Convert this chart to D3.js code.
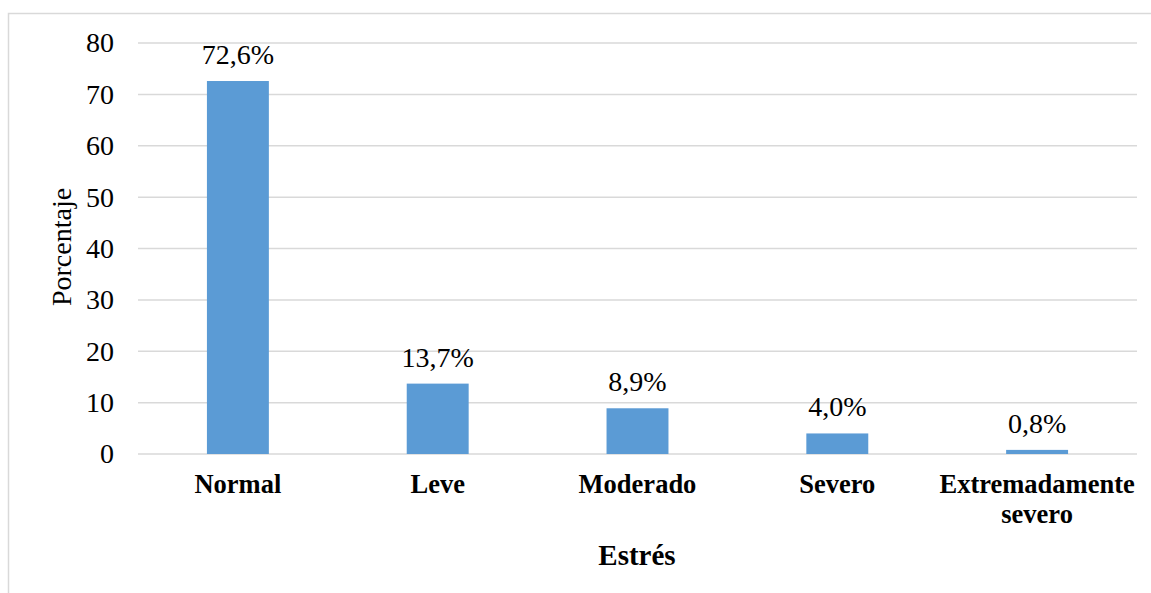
<!DOCTYPE html>
<html>
<head>
<meta charset="utf-8">
<script src="https://cdn.jsdelivr.net/npm/d3@7"></script>
<style>
  body { margin: 0; background: #fff; }
  svg { font-family: "Liberation Serif", "Times New Roman", serif; }
</style>
</head>
<body>
<svg id="chart" width="1151" height="593"></svg>
<script>
// data
const categories = ["Normal", "Leve", "Moderado", "Severo", "Extremadamente severo"];
const values = [72.6, 13.7, 8.9, 4.0, 0.8];
const valueLabels = ["72,6%", "13,7%", "8,9%", "4,0%", "0,8%"];
const yTicks = [0, 10, 20, 30, 40, 50, 60, 70, 80];

const svg = d3.select("#chart");

// outer frame (only top and left visible in the crop)
svg.append("rect")
    .attr("x", 8.5).attr("y", 13.5)
    .attr("width", 1160).attr("height", 600)
    .attr("fill", "none")
    .attr("stroke", "#d9d9d9")
    .attr("stroke-width", 1.5);

const x = d3.scaleBand()
    .domain(categories)
    .range([138, 1137])
    .paddingInner(0.69)
    .paddingOuter(0.345);

const y = d3.scaleLinear()
    .domain([0, 80])
    .range([454, 43]);

// gridlines
svg.append("g")
    .selectAll("line")
    .data(yTicks)
    .join("line")
        .attr("x1", 138)
        .attr("x2", 1137)
        .attr("y1", d => y(d))
        .attr("y2", d => y(d))
        .attr("stroke", "#d9d9d9")
        .attr("stroke-width", 1.5);

// y tick labels
const yAxis = svg.append("g")
    .attr("transform", "translate(126,0)")
    .call(d3.axisLeft(y).tickValues(yTicks).tickSize(0).tickPadding(12));
yAxis.select(".domain").remove();
yAxis.selectAll("text")
    .attr("font-family", "Liberation Serif, serif")
    .attr("font-size", 28)
    .attr("fill", "#000");

// bars
svg.append("g")
    .selectAll("rect")
    .data(values)
    .join("rect")
        .attr("x", (d, i) => x(categories[i]))
        .attr("width", x.bandwidth())
        .attr("y", d => y(d))
        .attr("height", d => y(0) - y(d))
        .attr("fill", "#5b9bd5");

// value labels
svg.append("g")
    .selectAll("text")
    .data(values)
    .join("text")
        .attr("x", (d, i) => x(categories[i]) + x.bandwidth() / 2)
        .attr("y", d => y(d) - 17)
        .attr("text-anchor", "middle")
        .attr("font-size", 28)
        .attr("fill", "#000")
        .text((d, i) => valueLabels[i]);

// category labels, wrapped onto two lines where needed
const catLines = {
    "Extremadamente severo": ["Extremadamente", "severo"]
};
const catG = svg.append("g")
    .selectAll("text")
    .data(categories)
    .join("text")
        .attr("x", d => x(d) + x.bandwidth() / 2)
        .attr("y", 493)
        .attr("text-anchor", "middle")
        .attr("font-size", 26.5)
        .attr("font-weight", "bold")
        .attr("fill", "#000");
catG.each(function(d) {
    const lines = catLines[d] || [d];
    const t = d3.select(this);
    lines.forEach((ln, i) => {
        t.append("tspan")
            .attr("x", x(d) + x.bandwidth() / 2)
            .attr("dy", i === 0 ? 0 : 30)
            .text(ln);
    });
});

// axis titles
svg.append("text")
    .attr("x", 637)
    .attr("y", 565)
    .attr("text-anchor", "middle")
    .attr("font-size", 29)
    .attr("font-weight", "bold")
    .text("Estrés");

svg.append("text")
    .attr("transform", "translate(71,247) rotate(-90)")
    .attr("text-anchor", "middle")
    .attr("font-size", 28)
    .text("Porcentaje");
</script>
</body>
</html>
